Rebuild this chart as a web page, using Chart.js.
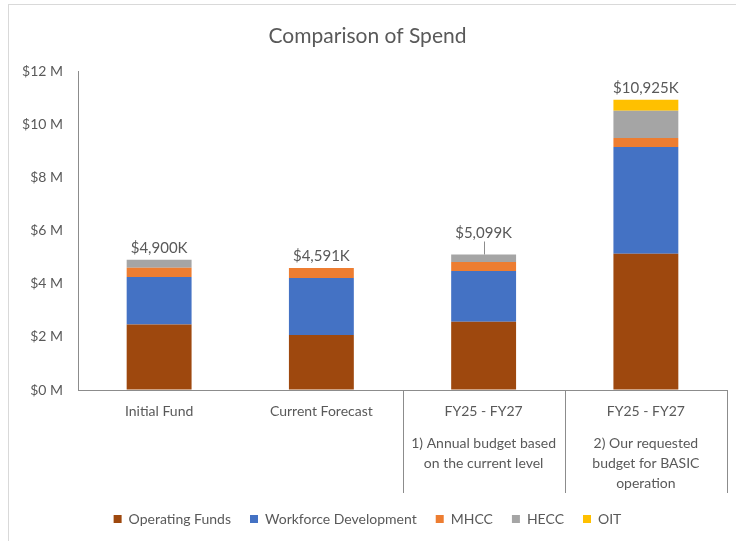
<!DOCTYPE html>
<html>
<head>
<meta charset="utf-8">
<script src="https://cdn.jsdelivr.net/npm/chart.js@4.4.1/dist/chart.umd.min.js"></script>
<style>
  html, body { margin: 0; padding: 0; background: #fff; }
  #wrap { position: relative; width: 736px; height: 541px; }
  #frame { position: absolute; left: 8px; top: 4px; right: 0; bottom: 0; border-left: 1px solid #d9d9d9; border-top: 1px solid #d9d9d9; }
  canvas { position: absolute; left: 0; top: 0; }
</style>
</head>
<body>
<div id="wrap">
  <div id="frame"></div>
  <canvas id="spend"></canvas>
</div>
<script>
// chart data ($ millions)
const categories = ["Initial Fund", "Current Forecast", "FY25 - FY27", "FY25 - FY27"];
const subLabels = [
    [],
    [],
    ["1) Annual budget based", "on the current level"],
    ["2) Our requested", "budget for BASIC", "operation"]
];
const operatingFunds = [2.47, 2.07, 2.57, 5.13];
const workforceDev = [1.78, 2.15, 1.91, 4.02];
const mhcc = [0.35, 0.37, 0.34, 0.34];
const hecc = [0.30, 0, 0.28, 1.02];
const oit = [0, 0, 0, 0.415];
const totalsK = [4900, 4591, 5099, 10925];
const yTicks = [0, 2, 4, 6, 8, 10, 12];

const FONT = "Lato, 'Open Sans', sans-serif";
const TXT = "#595959";
const AXIS = "#8c8c8c";

// category separators, multi-line labels and totals
const axisExtras = {
    id: "axisExtras",
    afterDraw(chart) {
        const { ctx, chartArea, scales } = chart;
        const x = scales.x, y = scales.y;
        const bottom = chartArea.bottom;
        ctx.save();
        ctx.strokeStyle = AXIS;
        ctx.lineWidth = 1;
        const bounds = [];
        for (let i = 1; i < categories.length - 1; i++) {
            bounds.push((x.getPixelForTick(i) + x.getPixelForTick(i + 1)) / 2);
        }
        bounds.push(chartArea.right);
        bounds.forEach(bx => {
            ctx.beginPath();
            ctx.moveTo(Math.round(bx) + 0.5, bottom);
            ctx.lineTo(Math.round(bx) + 0.5, bottom + 103);
            ctx.stroke();
        });

        ctx.fillStyle = TXT;
        ctx.textAlign = "center";
        ctx.textBaseline = "middle";
        ctx.font = "14px " + FONT;
        categories.forEach((c, i) => {
            const cx = x.getPixelForTick(i);
            ctx.fillText(c, cx, bottom + 21);
            subLabels[i].forEach((s, j) => ctx.fillText(s, cx, bottom + 53 + j * 20));
        });

        ctx.font = "15px " + FONT;
        const ds = chart.data.datasets;
        totalsK.forEach((t, i) => {
            let sum = 0;
            ds.forEach(d => sum += d.data[i]);
            const top = y.getPixelForValue(sum);
            const cx = x.getPixelForTick(i);
            const lift = i === 2 ? 21 : 12;
            ctx.fillText("$" + t.toLocaleString("en-US") + "K", cx, top - lift);
            if (i === 2) {
                ctx.beginPath();
                ctx.moveTo(Math.round(cx) + 0.5, top - lift + 8);
                ctx.lineTo(Math.round(cx) + 0.5, top);
                ctx.stroke();
            }
        });
        ctx.restore();
    }
};

const mk = (label, data, color) => ({
    label: label,
    data: data,
    backgroundColor: color,
    borderWidth: 0,
    categoryPercentage: 1,
    barPercentage: 0.4
});

new Chart(document.getElementById("spend"), {
    type: "bar",
    data: {
        labels: categories,
        datasets: [
            mk("Operating Funds", operatingFunds, "#9e480e"),
            mk("Workforce Development", workforceDev, "#4472c4"),
            mk("MHCC", mhcc, "#ed7d31"),
            mk("HECC", hecc, "#a5a5a5"),
            mk("OIT", oit, "#ffc000")
        ]
    },
    options: {
        responsive: true,
        maintainAspectRatio: false,
        animation: false,
        layout: { padding: { left: 8, right: 9, top: 0, bottom: 5 } },
        plugins: {
            title: {
                display: true,
                text: "Comparison of Spend",
                color: TXT,
                font: { family: FONT, size: 21, weight: "normal" },
                padding: { top: 24, bottom: 22 }
            },
            legend: {
                position: "bottom",
                labels: {
                    color: TXT,
                    font: { family: FONT, size: 14 },
                    boxWidth: 8,
                    boxHeight: 8,
                    padding: 19
                }
            },
            tooltip: { enabled: false }
        },
        scales: {
            x: {
                stacked: true,
                ticks: { display: false },
                grid: { display: true, drawOnChartArea: false, drawTicks: false },
                border: { display: true, color: AXIS, width: 1 },
                afterFit: s => { s.height = 103; }
            },
            y: {
                stacked: true,
                min: 0,
                max: 12,
                afterBuildTicks: s => { s.ticks = yTicks.map(v => ({ value: v })); },
                ticks: {
                    color: TXT,
                    padding: 15,
                    font: { family: FONT, size: 14 },
                    callback: v => "$" + v + " M"
                },
                grid: { display: true, drawOnChartArea: false, drawTicks: false },
                border: { display: true, color: AXIS, width: 1 },
                afterFit: s => { s.width = 70; }
            }
        }
    },
    plugins: [axisExtras]
});
</script>
</body>
</html>
